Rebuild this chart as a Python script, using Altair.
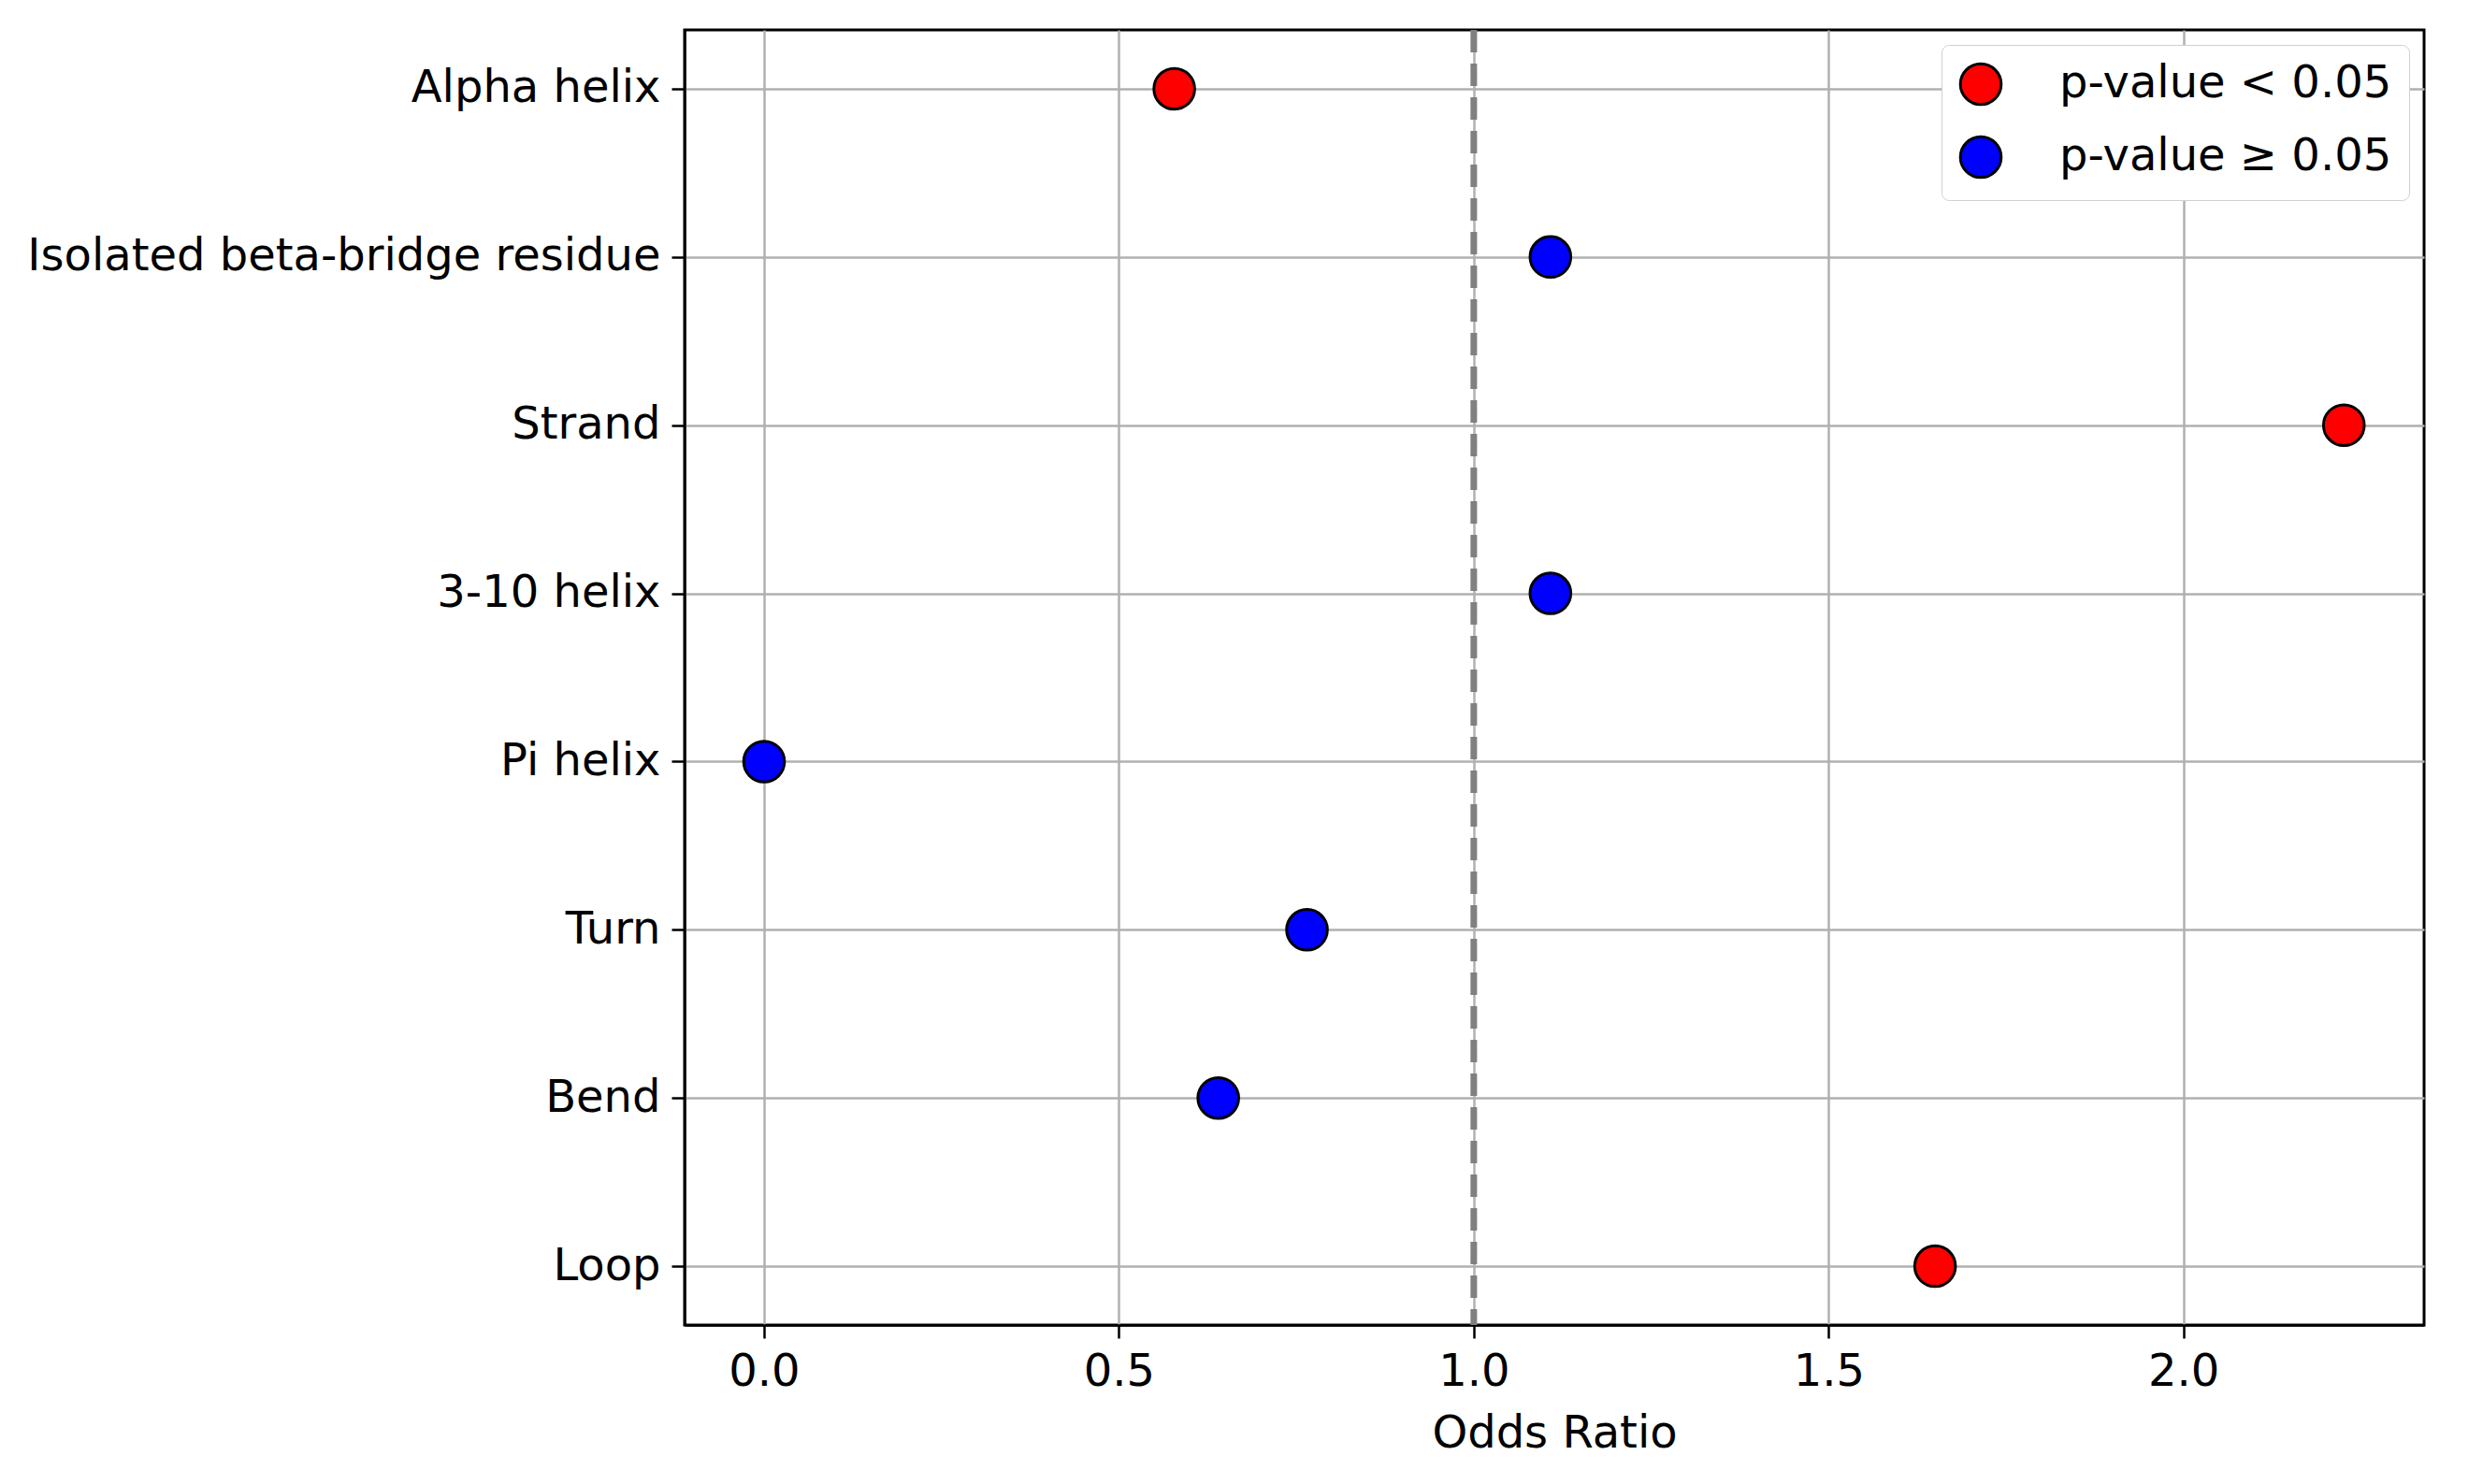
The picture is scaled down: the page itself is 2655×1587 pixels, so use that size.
import altair as alt
import pandas as pd

categories = ["Alpha helix", "Isolated beta-bridge residue", "Strand", "3-10 helix",
              "Pi helix", "Turn", "Bend", "Loop"]
odds_ratio = [0.578, 1.108, 2.226, 1.108, 0.0, 0.765, 0.64, 1.65]
significance = ["p-value < 0.05", "p-value ≥ 0.05", "p-value < 0.05", "p-value ≥ 0.05",
                "p-value ≥ 0.05", "p-value ≥ 0.05", "p-value ≥ 0.05", "p-value < 0.05"]

df = pd.DataFrame({"category": categories, "odds": odds_ratio, "sig": significance})
FONT = "DejaVu Sans"

base = alt.Chart(df)

points = base.mark_point(filled=True, size=1900, stroke="black", strokeWidth=3, opacity=1).encode(
    x=alt.X("odds:Q", title="Odds Ratio",
            scale=alt.Scale(domain=[-0.112, 2.339], nice=False, zero=False),
            axis=alt.Axis(values=[0.0, 0.5, 1.0, 1.5, 2.0], format=".1f")),
    y=alt.Y("category:N", title=None, sort=categories,
            scale=alt.Scale(type="point", padding=0.35)),
    color=alt.Color("sig:N", title=None,
                    scale=alt.Scale(domain=["p-value < 0.05", "p-value ≥ 0.05"], range=["#ff0000", "#0000ff"]),
                    legend=alt.Legend(orient="top-right", symbolStrokeColor="black", symbolStrokeWidth=3,
                                      symbolSize=1900, symbolType="circle", labelFontSize=48, labelFont=FONT,
                                      labelColor="black", labelLimit=0,
                                      strokeColor="#d0d0d0", fillColor="white", cornerRadius=8,
                                      padding=18, rowPadding=22, offset=16, labelOffset=60)),
)

ref = alt.Chart(pd.DataFrame({"x": [1.0]})).mark_rule(
    color="gray", strokeWidth=7, strokeDash=[24, 12]).encode(x="x:Q")

chart = (ref + points).properties(width=1860, height=1385).configure_axis(
    labelFont=FONT, titleFont=FONT, labelFontSize=48, titleFontSize=48,
    labelColor="black", titleColor="black", titleFontWeight="normal", labelLimit=0,
    grid=True, gridColor="#b0b0b0", gridWidth=2.5, domainColor="black", domainWidth=2.5,
    tickColor="black", tickWidth=2.5, tickSize=14, labelPadding=12, titlePadding=18,
).configure_view(stroke="black", strokeWidth=3).properties(padding={"left": 20, "top": 20, "right": 20, "bottom": 20})

chart.save("out.html", embed_options={"renderer": "svg", "actions": False})
